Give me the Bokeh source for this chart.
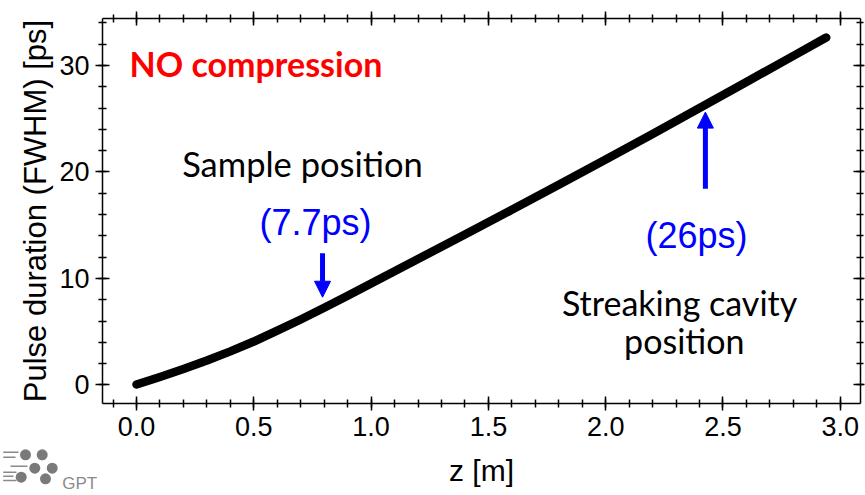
from bokeh.plotting import figure
from bokeh.layouts import column
from bokeh.models import (Range1d, LinearAxis, SingleIntervalTicker, NumeralTickFormatter,
                          Label, Arrow, NormalHead)
from bokeh.core.properties import value
from bokeh.embed import file_html
from bokeh.resources import INLINE

# ---- data ----
z_m = [0.0, 0.1, 0.2, 0.3, 0.4, 0.5, 0.6, 0.7, 0.8, 0.9, 1.0, 1.1, 1.2,
       1.4, 1.6, 1.8, 2.0, 2.2, 2.4, 2.6, 2.8, 2.94]
fwhm_ps = [0.05, 0.75, 1.5, 2.3, 3.16, 4.08, 5.1, 6.15, 7.25, 8.38, 9.53, 10.68, 11.83,
           14.13, 16.45, 18.8, 21.17, 23.57, 26.0, 28.45, 30.9, 32.62]

x_label = "z [m]"
y_label = "Pulse duration (FWHM) [ps]"
title_text = "NO compression"
sample_text = "Sample position"
sample_value = "(7.7ps)"
streak_value = "(26ps)"
streak_text_1 = "Streaking cavity"
streak_text_2 = "position"
logo_text = "GPT"

# annotation anchors (data coords)
sample_arrow = dict(x=0.793, y_tail=12.38, y_tip=8.24)
streak_arrow = dict(x=2.425, y_tail=18.42, y_tip=25.62)

# logo shapes (logo canvas coords, 100 x 50)
logo_dot_x = [25, 41.7, 34.3, 51.7, 20.7, 45]
logo_dot_y = [40.7, 40.7, 27.3, 27.3, 18.3, 16.7]
logo_bar_x0 = [2.7, 2.7, 10, 2.7, 2.7, 2.7]
logo_bar_x1 = [18, 15, 27, 16, 13, 16]
logo_bar_y = [43.3, 38.3, 29.3, 23.3, 19.3, 15]

BLUE = "#0000FF"
AX_FONT = "Liberation Sans"
CAL_FONT = "Lato"

p = figure(width=865, height=495, output_backend="svg", toolbar_location=None,
           x_range=Range1d(-0.1449, 3.0861), y_range=Range1d(-1.737, 34.41),
           min_border_left=102, min_border_top=18, min_border_right=5, min_border_bottom=92,
           x_axis_location=None, y_axis_location=None)
p.xgrid.visible = False
p.ygrid.visible = False
p.outline_line_color = None
p.background_fill_color = "white"
p.border_fill_color = "white"
p.frame_align = False


def make_axis(kind, labels, tick_out=7, minor_out=4):
    if kind == "x":
        ax = LinearAxis(ticker=SingleIntervalTicker(interval=0.5, num_minor_ticks=5),
                        formatter=NumeralTickFormatter(format="0.0"))
    else:
        ax = LinearAxis(ticker=SingleIntervalTicker(interval=10, num_minor_ticks=5))
    ax.axis_line_color = "black"
    ax.axis_line_width = 1.5
    ax.major_tick_line_color = "black"
    ax.major_tick_line_width = 1.5
    ax.minor_tick_line_color = "black"
    ax.minor_tick_line_width = 1.5
    ax.major_tick_in = 7
    ax.major_tick_out = tick_out
    ax.minor_tick_in = 4
    ax.minor_tick_out = minor_out
    if labels:
        ax.major_label_text_font = AX_FONT
        ax.major_label_text_font_size = "27px"
        ax.major_label_text_color = "black"
        ax.major_label_standoff = 6
        ax.axis_label_text_font = AX_FONT
        ax.axis_label_text_font_size = "30px"
        ax.axis_label_text_font_style = "normal"
        ax.axis_label_text_color = "black"
    else:
        ax.major_label_text_color = None
        ax.major_label_text_font_size = "1px"
        ax.major_label_standoff = 0
    return ax


xb = make_axis("x", True)
xb.axis_label = x_label
xb.axis_label_standoff = 15
p.add_layout(xb, "below")

yl = make_axis("y", True)
yl.axis_label = y_label
yl.axis_label_standoff = 3
yl.axis_label_text_font_size = "31px"
p.add_layout(yl, "left")

p.add_layout(make_axis("x", False), "above")
p.add_layout(make_axis("y", False, tick_out=4, minor_out=3), "right")

# main curve
p.line(z_m, fwhm_ps, line_width=8.5, line_color="black", line_cap="round", line_join="round")

# arrows
for a in (sample_arrow, streak_arrow):
    p.add_layout(Arrow(end=NormalHead(size=16, fill_color=BLUE, line_color=BLUE, line_width=1),
                       x_start=a["x"], y_start=a["y_tail"], x_end=a["x"], y_end=a["y_tip"],
                       line_color=BLUE, line_width=5))


def add_text(x, y, text, font, size, color, align="center", style="normal"):
    p.add_layout(Label(x=x, y=y, text=text, text_font=font, text_font_size=size,
                       text_color=color, text_align=align, text_baseline="alphabetic",
                       text_font_style=style))


add_text(-0.0298, 30.22, title_text, CAL_FONT, "34px", "#FF0000", align="left", style="bold")
add_text(0.7076, 20.77, sample_text, CAL_FONT, "34.5px", "black")
add_text(0.763, 15.29, sample_value, AX_FONT, "36px", BLUE)
add_text(2.387, 14.04, streak_value, AX_FONT, "36px", BLUE)
add_text(2.315, 7.77, streak_text_1, CAL_FONT, "34px", "black")
add_text(2.335, 4.18, streak_text_2, CAL_FONT, "34px", "black")

# ---- small GPT logo figure, overlapping the bottom-left corner ----
logo = figure(width=100, height=50, output_backend="svg", toolbar_location=None,
              x_range=Range1d(0, 100), y_range=Range1d(0, 50),
              min_border=0, x_axis_location=None, y_axis_location=None)
logo.xgrid.visible = False
logo.ygrid.visible = False
logo.outline_line_color = None
logo.background_fill_color = None
logo.border_fill_color = None
logo.frame_align = False
logo.segment(x0=logo_bar_x0, y0=logo_bar_y, x1=logo_bar_x1, y1=logo_bar_y,
             line_color="#8a8a8a", line_width=1.6)
logo.scatter(logo_dot_x, logo_dot_y, size=11, marker="circle",
             fill_color="#7a7a7a", line_color=None)
logo.text(x=[61.7], y=[11.7], text=[logo_text], text_font=value(AX_FONT), text_font_size="17px",
          text_color="#8a8a8a", text_align="left", text_baseline="alphabetic")
logo.margin = (-50, 0, 0, 0)

page = column(p, logo)

open("out.html", "w").write(file_html(page, INLINE))
